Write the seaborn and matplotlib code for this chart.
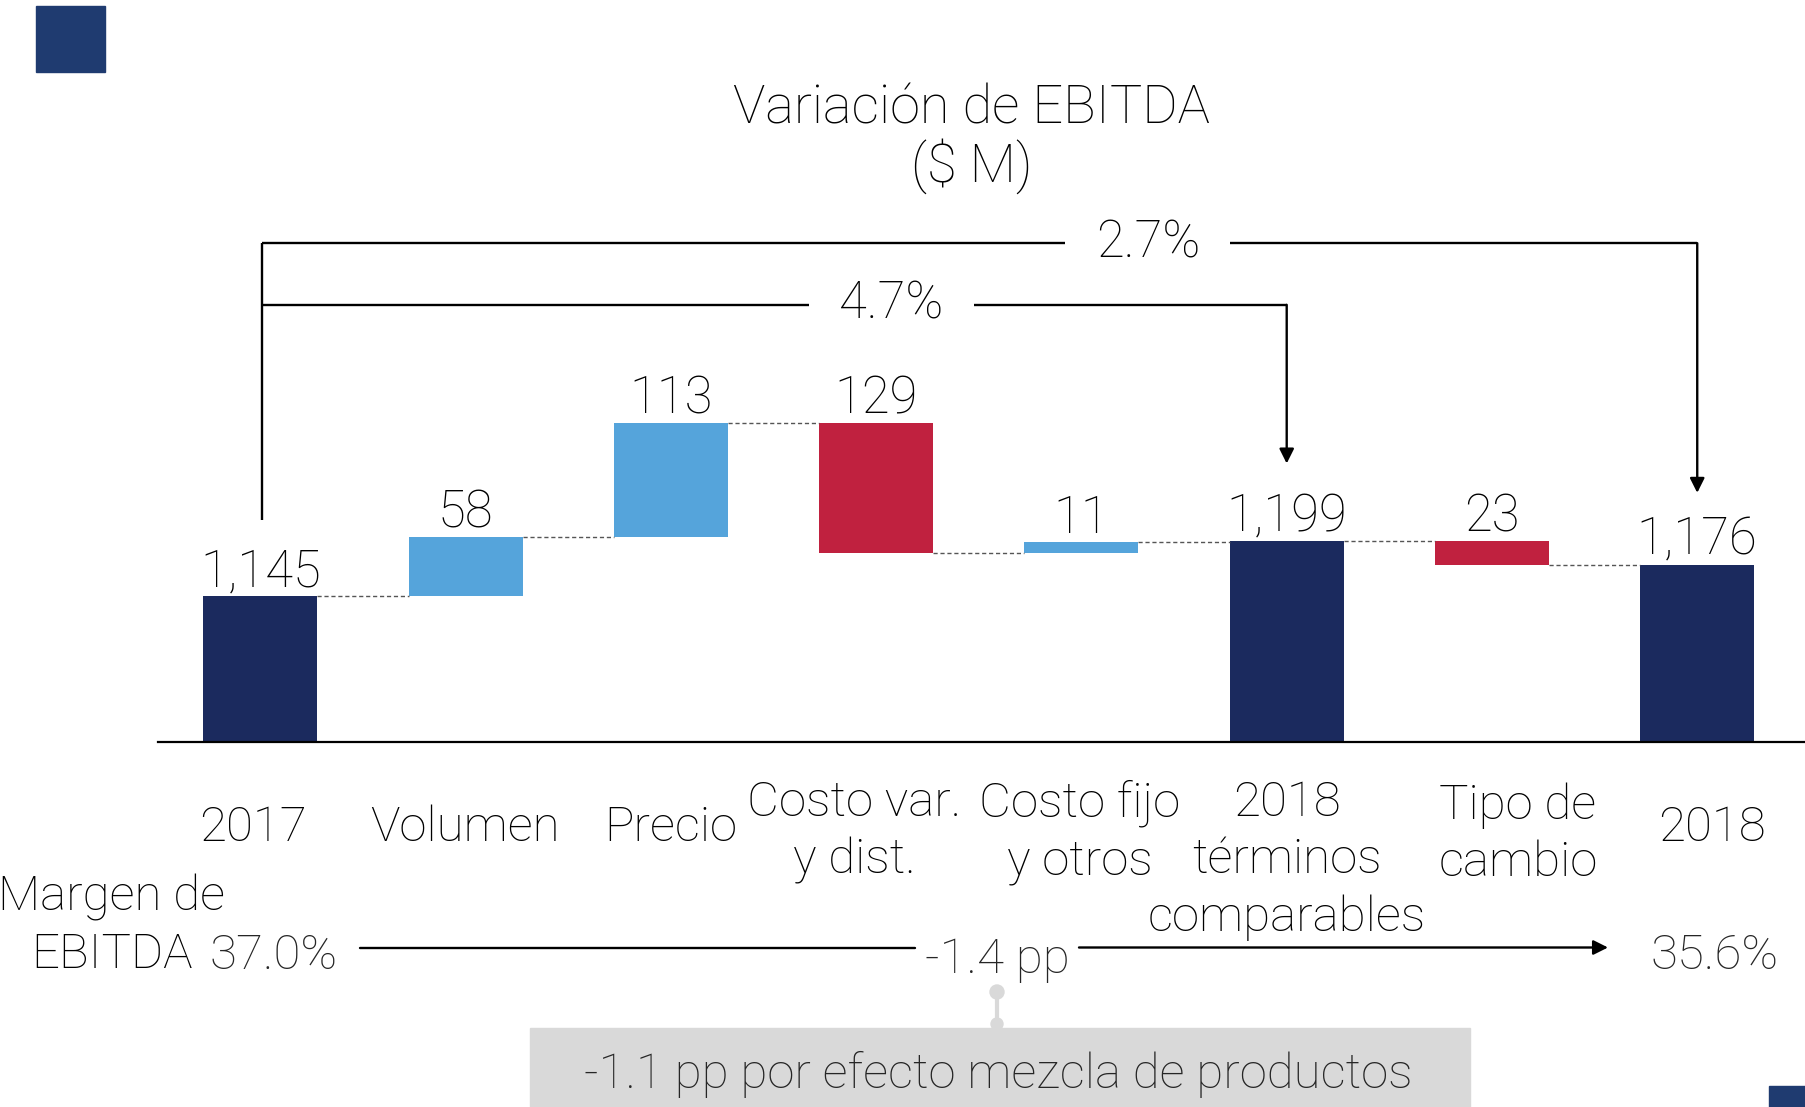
import matplotlib
matplotlib.use("Agg")
import matplotlib.pyplot as plt
import matplotlib.transforms as mtransforms
from matplotlib.patches import Rectangle, Circle
import seaborn as sns
import pandas as pd

# ---------------- data ----------------
categories = ["2017", "Volumen", "Precio", "Costo var.\ny dist.", "Costo fijo\ny otros",
              "2018\ntérminos\ncomparables", "Tipo de\ncambio", "2018"]
values = [1145, 58, 113, -129, 11, 1199, -23, 1176]
is_total = [True, False, False, False, False, True, False, True]
bracket_labels = ["2.7%", "4.7%"]
margin_start = "37.0%"
margin_end = "35.6%"
margin_change = "-1.4 pp"
mix_note = "-1.1 pp por efecto mezcla de productos"
title = "Variación de EBITDA\n($ M)"

NAVY = "#1B2A5E"
BLUE = "#55A4DB"
RED = "#C0213F"
SQUARE = "#1F3B70"
GRAY = "#D9D9D9"

# running levels
lows, highs, ends = [], [], []
level = 0
for v, tot in zip(values, is_total):
    if tot:
        lows.append(0); highs.append(v); level = v
    else:
        new = level + v
        lows.append(min(level, new)); highs.append(max(level, new)); level = new
    ends.append(level)
colors = [NAVY if t else (BLUE if v > 0 else RED) for v, t in zip(values, is_total)]

sns.set_theme(style="white")
plt.rcParams["font.family"] = ["Roboto", "DejaVu Sans"]
plt.rcParams["font.weight"] = "light"
FS = 35.5
FST = 39

W, H = 1805, 1107
fig = plt.figure(figsize=(W / 100, H / 100), dpi=100)
fig.patch.set_facecolor("white")
PX = mtransforms.Affine2D().scale(1 / W, -1 / H).translate(0, 1) + fig.transFigure

ax = fig.add_axes([0.0874, 0.3293, 0.9126, 0.6707])
ax.patch.set_alpha(0)
df = pd.DataFrame({"cat": categories, "top": highs})
sns.barplot(data=df, x="cat", y="top", hue="cat", palette=colors, dodge=False,
            legend=False, width=0.555, saturation=1, ax=ax)
for p in ax.patches:
    i = int(round(p.get_x() + p.get_width() / 2))
    p.set_y(lows[i]); p.set_height(highs[i] - lows[i]); p.set_edgecolor("none")

ax.set_xlim(-0.5, 7.525)
ax.set_ylim(1000, 1734.6)
ax.set_xticks([]); ax.set_yticks([])
ax.set_xlabel(""); ax.set_ylabel("")
for s in ["top", "right", "left"]:
    ax.spines[s].set_visible(False)
ax.spines["bottom"].set_color("black")
ax.spines["bottom"].set_linewidth(1.6)

bw = 0.555
# dashed connectors
for i in range(len(values) - 1):
    ax.plot([i + bw / 2, i + 1 - bw / 2], [ends[i], ends[i]], color="#555555",
            lw=1.0, ls=(0, (3, 2)), zorder=1)

# value labels
for i, v in enumerate(values):
    ax.annotate(f"{abs(v):,}", (i, highs[i]), xytext=(0, 7), textcoords="offset points",
                ha="center", va="baseline", fontsize=FS + 1, color="black")

# brackets
xl = 0.01
br_y = [1494, 1433]
br_target = [7, 5]
br_tip = [1247, 1276]
br_text_x = [4.324, 3.073]
ax.plot([xl, xl], [1220, br_y[0]], color="black", lw=1.7, clip_on=False, solid_capstyle="butt")
for lab, y, t, tip, tx in zip(bracket_labels, br_y, br_target, br_tip, br_text_x):
    ax.plot([xl, t], [y, y], color="black", lw=1.7, clip_on=False, solid_capstyle="butt")
    ax.annotate("", xy=(t, tip), xytext=(t, y),
                arrowprops=dict(arrowstyle="-|>", lw=1.7, color="black", mutation_scale=22,
                                shrinkA=0, shrinkB=0), annotation_clip=False)
    ax.text(tx, y, lab, ha="center", va="center", fontsize=FS + 1, color="black",
            bbox=dict(boxstyle="square,pad=0.6", fc="white", ec="none"))

# category labels (figure pixel coordinates)
cat_pos = [(253, 828), (465, 828), (671, 828), (854, 832), (1080, 832), (1287, 860),
           (1518, 834), (1712, 828)]
for lab, (x, y) in zip(categories, cat_pos):
    fig.text(x, y, lab, transform=PX, ha="center", va="center", fontsize=FS,
             linespacing=1.3, color="black")

# title
fig.text(971.6, 138.5, title, transform=PX, ha="center", va="center", fontsize=FST,
         linespacing=1.1, color="black")

# margin row
fig.text(112, 926, "Margen de\nEBITDA", transform=PX, ha="center", va="center",
         fontsize=FS, linespacing=1.3, color="black")
fig.text(274, 956, margin_start, transform=PX, ha="center", va="center", fontsize=FS)
fig.text(997, 960, margin_change, transform=PX, ha="center", va="center", fontsize=FS)
fig.text(1715, 956, margin_end, transform=PX, ha="center", va="center", fontsize=FS)
fig.add_artist(plt.Line2D([360, 915], [947.5, 947.5], transform=PX, color="black", lw=1.7))
ax.annotate("", xy=(1608, 947.5), xytext=(1079, 947.5), xycoords=PX, textcoords=PX,
            arrowprops=dict(arrowstyle="-|>", lw=1.7, color="black", mutation_scale=22,
                            shrinkA=0, shrinkB=0), annotation_clip=False)

# gray note connector and box
fig.add_artist(plt.Line2D([997, 997], [992, 1027], transform=PX, color=GRAY, lw=3))
fig.add_artist(Circle((997, 992), 7, transform=PX, color=GRAY))
fig.add_artist(Circle((997, 1024), 6, transform=PX, color=GRAY))
fig.add_artist(Rectangle((529.5, 1028), 940.5, 90, transform=PX, color=GRAY))
fig.text(998, 1074, mix_note, transform=PX, ha="center", va="center", fontsize=FS)

# decorative squares
fig.add_artist(Rectangle((36, 6), 69, 66, transform=PX, color=SQUARE))
fig.add_artist(Rectangle((1769, 1085.6), 40, 25, transform=PX, color=SQUARE))

fig.savefig("out.png", dpi=100)
